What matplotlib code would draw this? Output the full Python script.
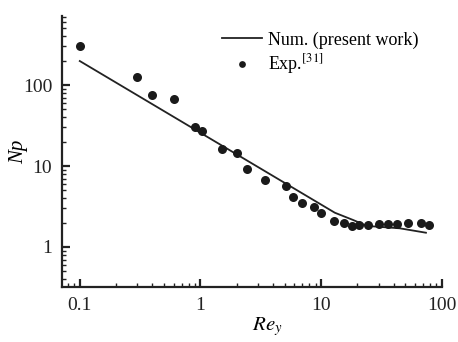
import matplotlib
matplotlib.use('Agg')
import matplotlib.pyplot as plt
from matplotlib.ticker import LogLocator, FixedLocator, NullFormatter

plt.rcParams['font.family'] = ['Liberation Serif', 'DejaVu Serif']
plt.rcParams['mathtext.fontset'] = 'stix'

exp_re = [0.1, 0.30, 0.40, 0.60, 0.90, 1.03, 1.5, 2.0, 2.45, 3.4, 5.1, 5.9, 6.9,
          8.75, 10.0, 12.7, 15.5, 18.0, 20.8, 24.7, 30.3, 36, 43, 53, 67, 79]
exp_np = [303, 126, 75, 66.6, 30, 27.3, 16.4, 14.6, 9.3, 6.7, 5.7, 4.18, 3.49,
          3.12, 2.61, 2.08, 1.96, 1.83, 1.87, 1.87, 1.94, 1.94, 1.94, 1.96, 2.0, 1.87]

# numerical curve
num_re = [0.1, 13, 18.5, 24, 45, 74]
num_np = [198, 2.65, 2.15, 1.82, 1.70, 1.50]

fig = plt.figure(figsize=(4.58, 3.42), dpi=100)
ax = fig.add_axes([0.135, 0.161, 0.83, 0.792])

ax.plot(num_re, num_np, color='#222222', lw=1.3, label='Num. (present work)')
ax.plot(exp_re, exp_np, 'o', color='#1a1a1a', ms=6.5, mec='none', label='Exp.$^{[31]}$')

ax.set_xscale('log')
ax.set_yscale('log')
ax.set_xlim(0.071, 100.5)
ax.set_ylim(0.321, 711)

ax.xaxis.set_major_locator(FixedLocator([0.1, 1, 10, 100]))
ax.set_xticklabels(['0.1', '1', '10', '100'])
ax.yaxis.set_major_locator(FixedLocator([1, 10, 100]))
ax.set_yticklabels(['1', '10', '100'])
ax.xaxis.set_minor_locator(LogLocator(base=10, subs=range(2, 10), numticks=20))
ax.yaxis.set_minor_locator(LogLocator(base=10, subs=range(2, 10), numticks=20))
ax.xaxis.set_minor_formatter(NullFormatter())
ax.yaxis.set_minor_formatter(NullFormatter())

for side in ['top', 'right']:
    ax.spines[side].set_visible(False)
for side in ['left', 'bottom']:
    ax.spines[side].set_linewidth(1.6)
    ax.spines[side].set_color('#222222')

ax.tick_params(which='major', direction='in', length=6, width=1.6, labelsize=14,
               pad=7, colors='#222222')
ax.tick_params(which='minor', direction='in', length=3.2, width=1.0, colors='#222222')

ax.set_xlabel('$Re_y$', fontsize=15)
ax.xaxis.set_label_coords(0.54, -0.105)
ax.set_ylabel('Np', fontsize=15, fontstyle='italic', labelpad=-4)

ax.legend(loc='upper left', bbox_to_anchor=(0.407, 0.963), frameon=False, fontsize=13,
          handlelength=2.2, handletextpad=0.35, borderpad=0.3, labelspacing=0.2,
          borderaxespad=0, markerscale=0.75)

fig.savefig('out.png', dpi=100)
